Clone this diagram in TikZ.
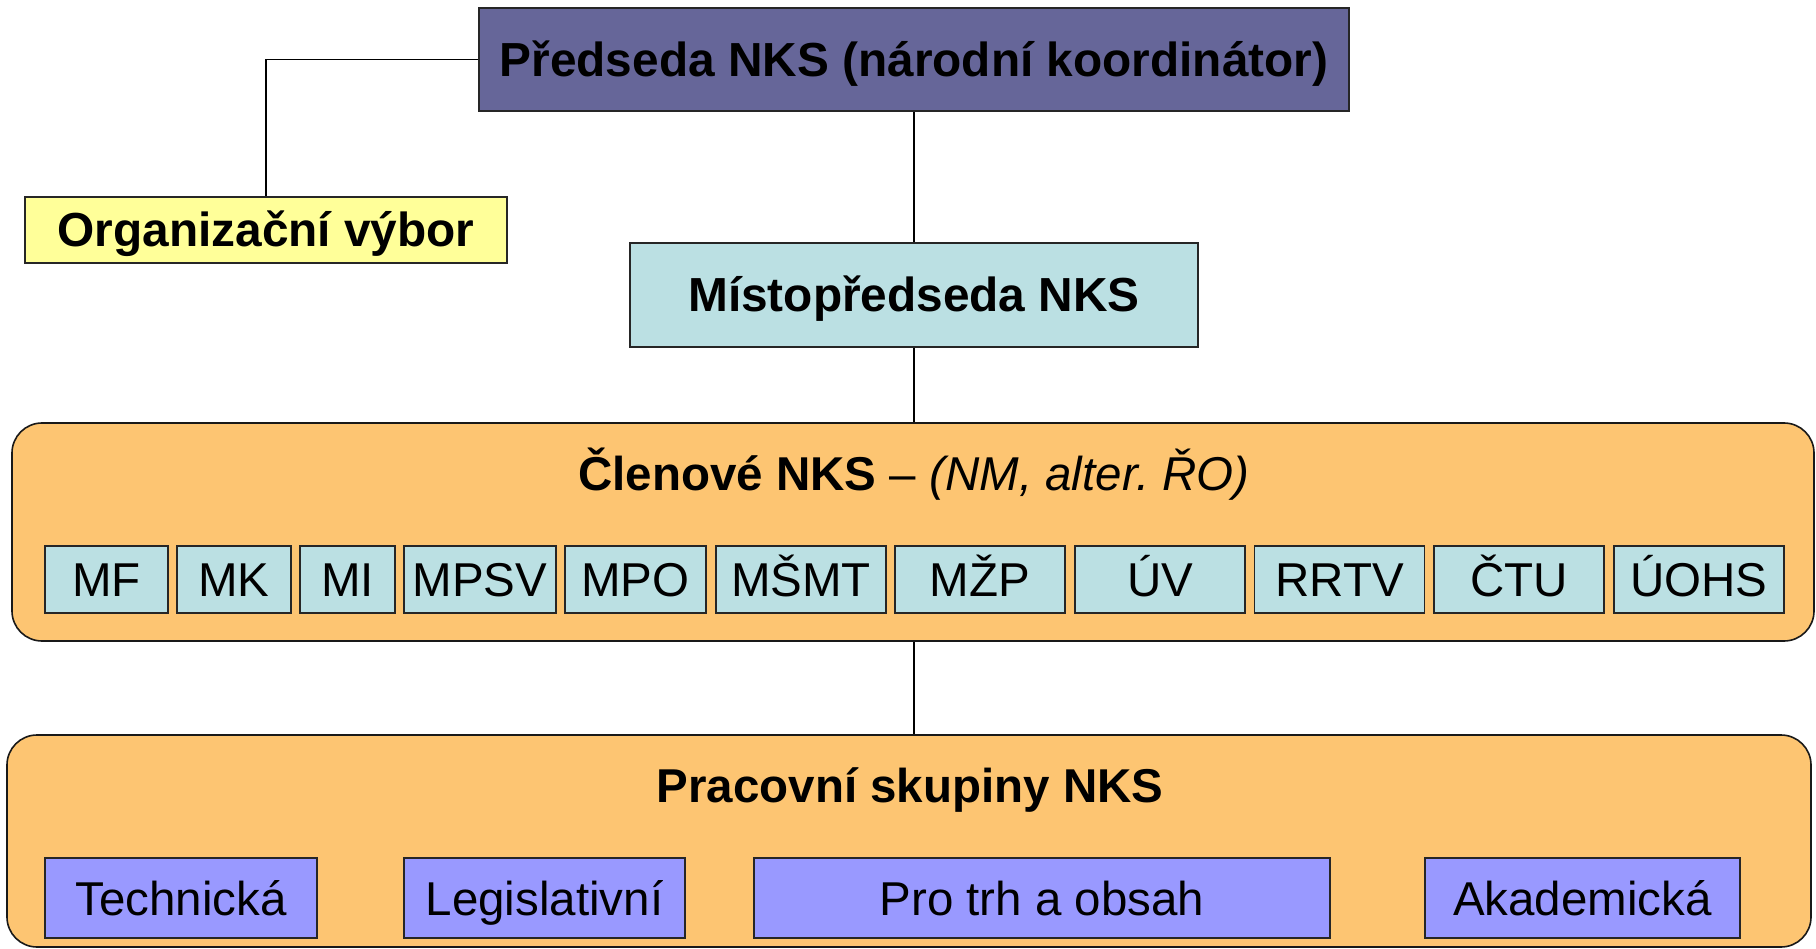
\documentclass[tikz,border=0pt]{standalone}
\usepackage{fontspec}
\setmainfont{Liberation Sans}
\definecolor{topc}{HTML}{666699}
\definecolor{orgc}{HTML}{FFFF99}
\definecolor{cyanc}{HTML}{BBE0E3}
\definecolor{orangec}{HTML}{FDC572}
\definecolor{purc}{HTML}{9999FF}
\begin{document}
\begin{tikzpicture}[x=1pt,y=-1pt,
  box/.style={draw=black!85, line width=1.6pt, inner sep=0pt, text height=34pt, text depth=0pt,
    font=\fontsize{47.5}{57}\selectfont},
  bbox/.style={box, font=\fontsize{47.8}{57}\selectfont\bfseries},
  cont/.style={draw=black!90, line width=1.6pt, fill=orangec, rounded corners=30pt, inner sep=0pt},
  conn/.style={draw=black, line width=1.5pt},
  title/.style={anchor=base, inner sep=0pt, font=\fontsize{47.5}{57}\selectfont}
]
\useasboundingbox (0,0) rectangle (1816,949);

% top level
\node[bbox, fill=topc, minimum width=870pt, minimum height=103pt] (top) at (914,59.5) {Předseda NKS (národní koordinátor)};
\node[bbox, fill=orgc, minimum width=482pt, minimum height=66pt] (org) at (266,230) {Organizační výbor};
\node[bbox, fill=cyanc, minimum width=568pt, minimum height=104pt] (mist) at (914,295) {Místopředseda NKS};

% members container
\node[cont, minimum width=1802pt, minimum height=218pt] (clen) at (913,532) {};
\node[title] (clent) at (914,490) {\textbf{Členové NKS} – \textit{(NM, alter.~ŘO)}};

\node[box, fill=cyanc, minimum width=123pt, minimum height=67pt] (mf) at (106.5,579.5) {MF};
\node[box, fill=cyanc, minimum width=114pt, minimum height=67pt] (mk) at (234,579.5) {MK};
\node[box, fill=cyanc, minimum width=95pt, minimum height=67pt] (mi) at (347.5,579.5) {MI};
\node[box, fill=cyanc, minimum width=152pt, minimum height=67pt] (mpsv) at (480,579.5) {MPSV};
\node[box, fill=cyanc, minimum width=141pt, minimum height=67pt] (mpo) at (635.5,579.5) {MPO};
\node[box, fill=cyanc, minimum width=170pt, minimum height=67pt] (msmt) at (801,579.5) {MŠMT};
\node[box, fill=cyanc, minimum width=170pt, minimum height=67pt] (mzp) at (980,579.5) {MŽP};
\node[box, fill=cyanc, minimum width=170pt, minimum height=67pt] (uv) at (1160,579.5) {ÚV};
\node[box, fill=cyanc, minimum width=170pt, minimum height=67pt] (rrtv) at (1339.5,579.5) {RRTV};
\node[box, fill=cyanc, minimum width=170pt, minimum height=67pt] (ctu) at (1519,579.5) {ČTU};
\node[box, fill=cyanc, minimum width=170pt, minimum height=67pt] (uohs) at (1699,579.5) {ÚOHS};

% working groups container
\node[cont, minimum width=1804pt, minimum height=212pt] (prac) at (909,841) {};
\node[title] (pract) at (910,802) {\textbf{Pracovní skupiny NKS}};

\node[box, fill=purc, minimum width=272pt, minimum height=80pt] (tech) at (181,898) {Technická};
\node[box, fill=purc, minimum width=281pt, minimum height=80pt] (leg) at (544.5,898) {Legislativní};
\node[box, fill=purc, minimum width=576pt, minimum height=80pt] (trh) at (1042,898) {Pro trh a obsah};
\node[box, fill=purc, minimum width=315pt, minimum height=80pt] (aka) at (1582.5,898) {Akademická};

% connectors
\draw[conn] (top.west) -| (org.north);
\draw[conn] (top.south) -- (mist.north);
\draw[conn] (mist.south) -- (mist.south |- clen.north);
\draw[conn] (mist.south |- clen.south) -- (mist.south |- prac.north);
\end{tikzpicture}
\end{document}
